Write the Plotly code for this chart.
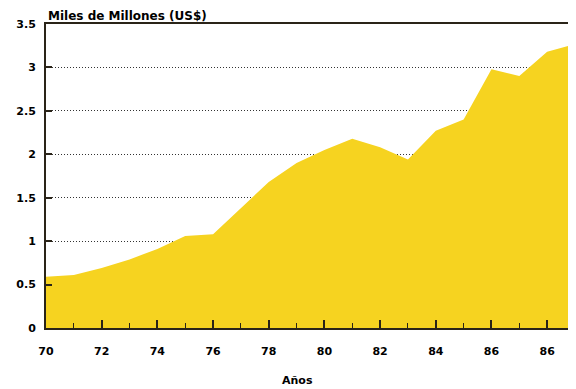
import plotly.graph_objects as go

years = list(range(70, 90))
values = [0.59, 0.61, 0.69, 0.79, 0.91, 1.06, 1.08, 1.38, 1.68, 1.90,
          2.05, 2.18, 2.08, 1.94, 2.27, 2.40, 2.98, 2.90, 3.18, 3.27]
x_tickvals = [70, 72, 74, 76, 78, 80, 82, 84, 86, 88]
x_ticktext = ["70", "72", "74", "76", "78", "80", "82", "84", "86", "86"]
y_tickvals = [0, 0.5, 1, 1.5, 2, 2.5, 3, 3.5]
y_ticktext = ["0", "0.5", "1", "1.5", "2", "2.5", "3", "3.5"]

FONT = "DejaVu Sans"
AXC = "#2a2418"

fig = go.Figure()
fig.add_trace(go.Scatter(
    x=years, y=values, mode="lines", fill="tozeroy",
    line=dict(width=0, color="#F6D320"), fillcolor="#F6D320",
    hoverinfo="x+y", showlegend=False,
))

# page body has an 8px default margin, so the figure is sized to fit
fig.update_layout(
    width=568, height=381,
    margin=dict(l=38, r=1, t=16, b=61),
    paper_bgcolor="white", plot_bgcolor="white",
    font=dict(family=FONT, size=12, color="black"),
    xaxis=dict(
        range=[70, 89], tickvals=x_tickvals, ticktext=x_ticktext,
        ticks="inside", ticklen=8, tickwidth=1.5, tickcolor=AXC,
        minor=dict(dtick=1, ticks="inside", ticklen=5, tickwidth=1, tickcolor=AXC, showgrid=False),
        showline=True, linecolor=AXC, linewidth=2, mirror=True,
        showgrid=False, zeroline=False, automargin=False,
        tickfont=dict(family=FONT, size=11, color="black", weight="bold"),
        ticklabelstandoff=12,
    ),
    yaxis=dict(
        range=[0, 3.5], tickvals=y_tickvals, ticktext=y_ticktext,
        ticks="inside", ticklen=6, tickwidth=1.5, tickcolor=AXC,
        showline=True, linecolor=AXC, linewidth=2,
        showgrid=True, gridcolor="#333333", griddash="1px,2px", gridwidth=1,
        zeroline=False, automargin=False,
        tickfont=dict(family=FONT, size=11, color="black", weight="bold"),
        ticklabelstandoff=6,
    ),
    annotations=[
        dict(text="<b>Miles de Millones (US$)</b>", xref="paper", yref="paper",
             x=0, y=1, xanchor="left", yanchor="bottom", yshift=-1,
             showarrow=False, font=dict(family=FONT, size=12, color="black")),
        dict(text="<b>Años</b>", xref="paper", yref="paper",
             x=0.475, y=0, xanchor="center", yanchor="top", yshift=-44,
             showarrow=False, font=dict(family=FONT, size=11, color="black")),
    ],
)

fig.write_html("out.html")
